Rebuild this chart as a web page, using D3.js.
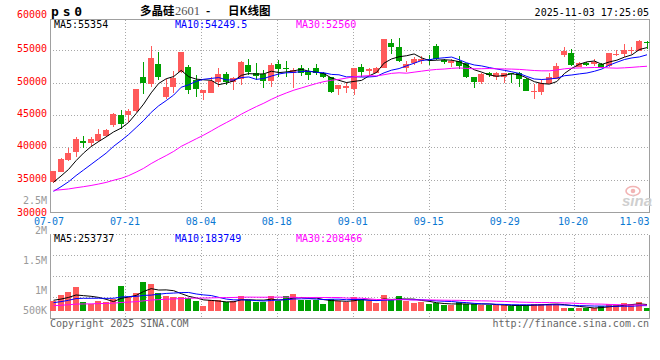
<!DOCTYPE html>
<html><head><meta charset="utf-8">
<script src="https://cdn.jsdelivr.net/npm/d3@7"></script>
<style>body{margin:0;background:#fff}svg{display:block}</style>
</head><body><svg id="c" width="660" height="360"></svg>
<script>
// ---------- data ----------
const tickIndex  = [0,10,20,30,40,50,60,69,79];
const tickLabels = ["07-07","07-21","08-04","08-18","09-01","09-15","09-29","10-20","11-03"];
const priceTicks = [30000,35000,40000,45000,50000,55000,60000];
const volTickValues = [500000,1000000,1500000,2000000,2500000];
const volTickLabels = ["500K","1M","1.5M","2M","2.5M"];
const maLegend    = ["MA5:55354","MA10:54249.5","MA30:52560"];
const volMaLegend = ["MA5:253737","MA10:183749","MA30:208466"];

const opens = [34784,36327,38127,39362,41111,40700,41060,41831,43529,45021,
 45072,45689,50936,49856,52942,47850,49444,51656,52479,50473,
 48415,48518,50113,51451,50113,50576,52839,51605,51348,50370,
 52942,52274,51502,52274,51914,52325,51605,50885,49084,49290,
 49084,52479,51914,51605,52377,56234,55617,52377,53148,53405,
 53660,55720,53610,53148,53350,53045,50988,50113,51605,50988,
 50988,51502,51502,50628,48600,48673,49856,50628,54331,54691,
 52531,53148,52942,52891,52634,54280,54486,54949,55000,56337];
const highs = [36450,38400,40031,41728,41831,41728,42912,42912,45432,45844,
 45946,49100,53250,55720,54794,50576,51862,54850,52788,51245,
 48930,50988,52377,51759,50988,53457,53714,53045,51965,53045,
 53560,53457,52274,52788,52274,52942,51759,50988,49753,50113,
 52377,52942,52377,52479,56800,56749,57006,53405,54000,54200,
 54280,56080,53765,53765,54177,53100,50988,51502,51759,51759,
 51502,51605,51759,50730,49804,50473,51502,53045,55617,55257,
 53302,53302,53663,53045,54691,55103,56029,55514,56646,56492];
const lows = [34600,36200,38024,38642,40031,40288,40957,41728,43169,42860,
 43992,45600,48313,49444,50473,47541,48415,51500,48364,47901,
 47387,48415,49444,49702,48930,49702,51245,50473,49239,49444,
 50988,50988,49239,51142,50473,51296,50730,48518,48158,48415,
 48158,50988,51142,51502,52377,54486,53302,51700,52800,52900,
 52740,53610,52994,52480,52200,50730,49290,49856,50885,50473,
 49959,49959,49342,48776,47541,48158,49856,50628,54074,52634,
 52428,52634,52685,52274,52531,54177,53971,54486,54949,55257];
const closes = [36378,38282,39156,41368,40803,41368,42140,42757,45226,43735,
 45741,49033,50062,53868,50988,49393,50730,54794,48981,49136,
 48879,50319,51451,50216,50782,53199,51656,51091,50370,52839,
 52119,52171,51965,51553,51296,51502,50936,48621,49753,49599,
 52377,51708,52119,52377,56800,55617,53405,52891,53765,53765,
 53560,53663,53250,53405,52634,50885,50113,51399,51245,51605,
 51502,51399,50628,48827,48720,50062,50936,52634,55000,52788,
 53148,52788,53302,52377,54691,54537,55103,55103,56492,56132];
const volumes = [370000,581000,693000,878000,322000,248000,381000,333000,456000,915000,
 519000,656000,1063000,989000,656000,544000,507000,519000,493000,359000,
 174000,419000,396000,344000,370000,556000,419000,333000,333000,556000,
 370000,544000,619000,419000,419000,396000,248000,444000,370000,333000,
 507000,456000,370000,307000,581000,419000,544000,370000,285000,333000,
 259000,285000,222000,211000,322000,270000,270000,222000,211000,211000,
 211000,174000,211000,211000,270000,270000,270000,259000,111000,100000,
 111000,122000,111000,196000,248000,222000,285000,248000,322000,122000];
// sessions before 07-07 (only feed the moving averages)
const histCloses = [35500,35600,35800,35818,35800,35500,35300,35100,34916,33200,
 32800,32400,32000,31700,31500,31400,31500,31600,31500,31564,
 31200,31500,31800,32200,32720,33500,34100,34600,34922];
const histVolumes = [120000,130000,140000,150000,135000,125000,140000,150000,145000,130000,
 140000,155000,150000,140000,135000,145000,150000,140000,150000,160000,
 190000,210000,220000,230000,245000,360000,390000,420000,446000];

// ---------- helpers ----------
function movingAvg(hist, data, p){
  const all = hist.concat(data), off = hist.length;
  return data.map((_, i) => d3.mean(all.slice(off + i - p + 1, off + i + 1)));
}
const n = closes.length;
const idx = d3.range(n);
const UP = "#ff5a5a", DOWN = "#00a000";
const MA_COL = ["#000000", "#0000ff", "#ff00ff"];
const MONO = "'DejaVu Sans Mono', monospace";

const L = 50, R = 649.5;
const mainTop = 19.5, mainBot = 212.5;
const volTop = 234.5, volBot = 318.5;

const xC = d3.scaleLinear().domain([0, n - 1]).range([50, 643.5]);   // candle left edge
const xG = d3.scaleLinear().domain([0, n - 1]).range([50, 650]);     // date grid
const y  = d3.scaleLinear().domain([30000, 55000]).range([212.67, 50.67]);
const yV = d3.scaleLinear().domain([0, 1000000]).range([311, 284]);
const yVL = d3.scaleLinear().domain([1000000, 2000000]).range([294, 234.3]);

const svg = d3.select("#c");
svg.append("rect").attr("width", 660).attr("height", 360).attr("fill", "#fff");
svg.append("defs").call(d => {
  d.append("clipPath").attr("id", "cm").append("rect").attr("x", L).attr("y", mainTop).attr("width", R - L).attr("height", mainBot - mainTop);
  d.append("clipPath").attr("id", "cv").append("rect").attr("x", L).attr("y", volTop).attr("width", R - L).attr("height", volBot - volTop);
});

const grid = svg.append("g").attr("stroke", "#a8a8a8").attr("stroke-dasharray", "1,2").attr("shape-rendering", "crispEdges");
function line(gr, x1, y1, x2, y2){ gr.append("line").attr("x1", x1).attr("y1", y1).attr("x2", x2).attr("y2", y2); }

// horizontal grid (main)
priceTicks.filter(v => v > 30000 && v < 60000).forEach(v => line(grid, L, Math.floor(y(v)) + 0.5, R, Math.floor(y(v)) + 0.5));
// vertical grid
tickIndex.slice(1, -1).forEach(k => {
  const gx = Math.floor(xG(k)) + 0.5;
  line(grid, gx, mainTop, gx, mainBot);
  line(grid, gx, volTop, gx, volBot);
});
// volume horizontal grid
d3.range(0, 4).forEach(k => { const gy = volTop + k * (volBot - volTop) / 4; line(grid, L, gy, R, gy); });

// solid borders
const bord = svg.append("g").attr("stroke", "#a0a0a0").attr("shape-rendering", "crispEdges");
line(bord, L, mainTop, R, mainTop);
line(bord, L, mainBot, R + 0.5, mainBot);
line(bord, L, mainTop, L, mainBot);
line(bord, R, mainTop, R, mainBot);
line(bord, L, volTop, L, volBot);
line(bord, R, volTop, R, volBot);
line(bord, L, volBot, R + 0.5, volBot);

// watermark
const wm = svg.append("g");
wm.append("ellipse").attr("cx", 633).attr("cy", 191).attr("rx", 7).attr("ry", 4.5).attr("fill", "none").attr("stroke", "#f2b4b4").attr("stroke-width", 1.6);
wm.append("circle").attr("cx", 633).attr("cy", 191).attr("r", 2.3).attr("fill", "#f2b4b4");
wm.append("text").attr("x", 652).attr("y", 206).attr("text-anchor", "end").attr("font-family", "'Liberation Sans', Arial, sans-serif")
  .attr("font-style", "italic").attr("font-weight", "bold").attr("font-size", 15).attr("fill", "#cfcfcf").text("sina");

// candles
const candles = svg.append("g").attr("shape-rendering", "crispEdges").attr("clip-path", "url(#cm)");
idx.forEach(i => {
  const up = closes[i] >= opens[i];
  const col = up ? UP : DOWN;
  const left = Math.round(xC(i));
  const top = Math.round(y(Math.max(opens[i], closes[i])));
  const bot = Math.round(y(Math.min(opens[i], closes[i])));
  candles.append("rect").attr("x", left + 3).attr("y", Math.round(y(highs[i]))).attr("width", 1)
    .attr("height", Math.max(1, Math.round(y(lows[i])) - Math.round(y(highs[i])))).attr("fill", col);
  candles.append("rect").attr("x", left).attr("y", top).attr("width", 6).attr("height", Math.max(1, bot - top)).attr("fill", col);
});

// price MAs
const priceMA = [5, 10, 30].map(p => movingAvg(histCloses, closes, p));
const lineP = d3.line().x(d => xC(d[0]) + 3.5).y(d => y(d[1]));
priceMA.forEach((s, k) => {
  svg.append("path").attr("clip-path", "url(#cm)").attr("d", lineP(s.map((v, i) => [i, v])))
    .attr("fill", "none").attr("stroke", MA_COL[k]).attr("stroke-width", 1);
});

// volume bars
const vol = svg.append("g").attr("shape-rendering", "crispEdges").attr("clip-path", "url(#cv)");
idx.forEach(i => {
  const col = closes[i] >= opens[i] ? UP : DOWN;
  const top = Math.round(yV(volumes[i]));
  vol.append("rect").attr("x", Math.round(xC(i))).attr("y", top).attr("width", 6)
    .attr("height", Math.round(yV(0)) - top).attr("fill", col);
});
const volMA = [5, 10, 30].map(p => movingAvg(histVolumes, volumes, p));
const lineV = d3.line().x(d => xC(d[0]) + 3.5).y(d => yV(d[1]));
volMA.forEach((s, k) => {
  svg.append("path").attr("clip-path", "url(#cv)").attr("d", lineV(s.map((v, i) => [i, v])))
    .attr("fill", "none").attr("stroke", MA_COL[k]).attr("stroke-width", 1);
});

// ---------- text ----------
function txt(x, yy, s, col, anchor, size, extra){
  const t = svg.append("text").attr("x", x).attr("y", yy).attr("fill", col).attr("text-anchor", anchor || "start")
    .attr("font-family", MONO).attr("font-size", size || 10).text(s);
  if (extra) extra(t);
  return t;
}
// price axis labels
priceTicks.forEach((v, i) => {
  const base = i === priceTicks.length - 1 ? 18.4 : (i === 0 ? 215.6 : y(v) + 1.6);
  txt(47, base, String(v), "#ff0000", "end");
});
// volume axis labels
volTickValues.forEach((v, i) => txt(47, Math.min(yVL(v), 313.5), volTickLabels[i], "#9a9a9a", "end"));
// date labels
tickIndex.forEach((k, i) => {
  const w = 30, cx = Math.min(xG(k) - 1, 649.5 - w / 2);
  txt(cx, 224.5, tickLabels[i], "#0a78d2", "middle");
});
// legends
const legX = [54, 175, 296];
maLegend.forEach((s, k) => txt(legX[k], 27.6, s, MA_COL[k]));
volMaLegend.forEach((s, k) => txt(legX[k], 241.8, s, MA_COL[k]));

// header
txt(51, 15.5, "ps0", "#000", "start", 13, t => t.attr("font-weight", "bold").attr("letter-spacing", 3.8));
const title = svg.append("text").attr("y", 15).attr("fill", "#000").attr("font-size", 11.5)
  .attr("font-family", "'Noto Sans CJK SC', sans-serif");
title.append("tspan").attr("x", 140).attr("font-weight", "bold").text("多晶硅");
title.append("tspan").attr("x", 175).attr("font-family", "'Liberation Serif', serif").attr("font-size", 12.5).attr("fill", "#555").text("2601");
title.append("tspan").attr("x", 206).attr("font-weight", "bold").text("-");
title.append("tspan").attr("x", 228).attr("font-weight", "bold").text("日K线图");
txt(649, 16, "2025-11-03 17:25:05", "#000", "end");

// footer
txt(50, 327, "Copyright 2025 SINA.COM", "#666");
txt(649, 327, "http://finance.sina.com.cn", "#666", "end");
</script>
</body></html>
